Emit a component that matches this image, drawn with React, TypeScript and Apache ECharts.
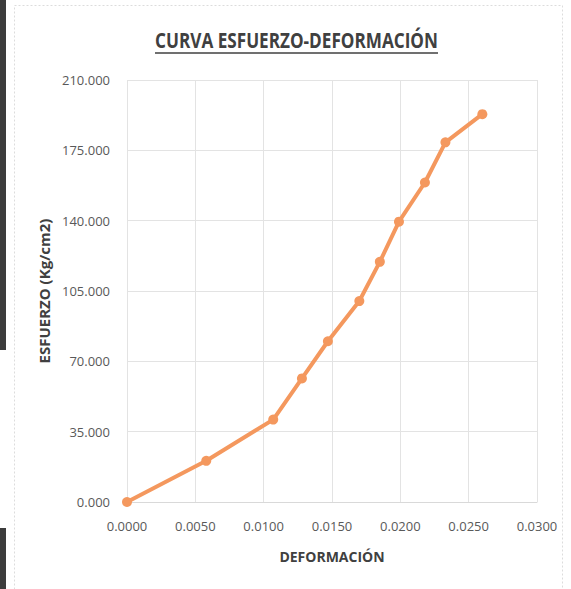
import React, { useEffect, useRef } from "react";
import * as echarts from "echarts";

const deformacion = [0, 0.0058, 0.0107, 0.0128, 0.0147, 0.017, 0.0185, 0.0199, 0.0218, 0.0233, 0.026];
const esfuerzo = [0, 20.5, 41, 61.5, 80, 100, 119.5, 139.5, 159, 179, 193];
const titleText = "CURVA ESFUERZO-DEFORMACIÓN";
const xName = "DEFORMACIÓN";
const yName = "ESFUERZO (Kg/cm2)";

function measure(text: string, font: string): number {
  const c = document.createElement("canvas");
  const ctx = c.getContext("2d");
  if (!ctx) return 300;
  ctx.font = font;
  return ctx.measureText(text).width;
}

export default function App() {
  const ref = useRef<HTMLDivElement>(null);
  useEffect(() => {
    if (!ref.current) return;
    const chart = echarts.init(ref.current, null, { renderer: "svg" });
    const titleFont = "bold 21px 'Open Sans'";
    const tw = measure(titleText, titleFont);
    const targetW = 283;
    const sx = targetW / tw;
    const data = deformacion.map((d, i) => [d, esfuerzo[i]]);
    chart.setOption({
      animation: false,
      backgroundColor: "#ffffff",
      grid: { left: 127, right: 34, top: 80, bottom: 87, containLabel: false },
      xAxis: {
        type: "value",
        min: 0,
        max: 0.03,
        interval: 0.005,
        name: xName,
        nameLocation: "middle",
        nameGap: 47,
        nameTextStyle: { fontFamily: "Open Sans", fontWeight: "bold", fontSize: 14, color: "#404040" },
        axisLine: { show: true, lineStyle: { color: "#d9d9d9", width: 1 } },
        axisTick: { show: false },
        splitLine: { show: true, lineStyle: { color: "#e3e3e3", width: 1 } },
        axisLabel: {
          formatter: (v: number) => v.toFixed(4),
          fontFamily: "Open Sans",
          fontSize: 13,
          color: "#595959",
          margin: 17,
        },
      },
      yAxis: {
        type: "value",
        min: 0,
        max: 210,
        interval: 35,
        name: yName,
        nameLocation: "middle",
        nameGap: 74,
        nameTextStyle: { fontFamily: "Open Sans", fontWeight: "bold", fontSize: 15, color: "#404040" },
        axisLine: { show: false },
        axisTick: { show: false },
        splitLine: { show: true, lineStyle: { color: "#e3e3e3", width: 1 } },
        axisLabel: {
          formatter: (v: number) => v.toFixed(3),
          fontFamily: "Open Sans",
          fontSize: 13,
          color: "#595959",
          margin: 17,
        },
      },
      graphic: [
        {
          type: "rect",
          shape: { x: 14.5, y: 5.5, width: 548, height: 600 },
          style: { fill: "none", stroke: "#dcdcdc", lineWidth: 1, lineDash: [2, 2] },
          silent: true,
        },
        { type: "rect", shape: { x: 0, y: 0, width: 6, height: 350 }, style: { fill: "#3c3c3c" }, silent: true },
        { type: "rect", shape: { x: 0, y: 528, width: 6, height: 61 }, style: { fill: "#3c3c3c" }, silent: true },
        {
          type: "text",
          x: 296.5,
          y: 40,
          scaleX: sx,
          style: {
            text: titleText,
            font: titleFont,
            fill: "#404040",
            align: "center",
            verticalAlign: "middle",
          },
          silent: true,
        },
        {
          type: "line",
          shape: { x1: 296.5 - targetW / 2, y1: 53, x2: 296.5 + targetW / 2, y2: 53 },
          style: { stroke: "#404040", lineWidth: 1.5 },
          silent: true,
        },
      ],
      series: [
        {
          type: "line",
          data,
          symbol: "circle",
          symbolSize: 10,
          lineStyle: { color: "#F4985E", width: 4 },
          itemStyle: { color: "#F4985E" },
        },
      ],
    });
    return () => chart.dispose();
  }, []);
  return <div ref={ref} style={{ position: "fixed", left: 0, top: 0, width: 571, height: 589 }} />;
}
